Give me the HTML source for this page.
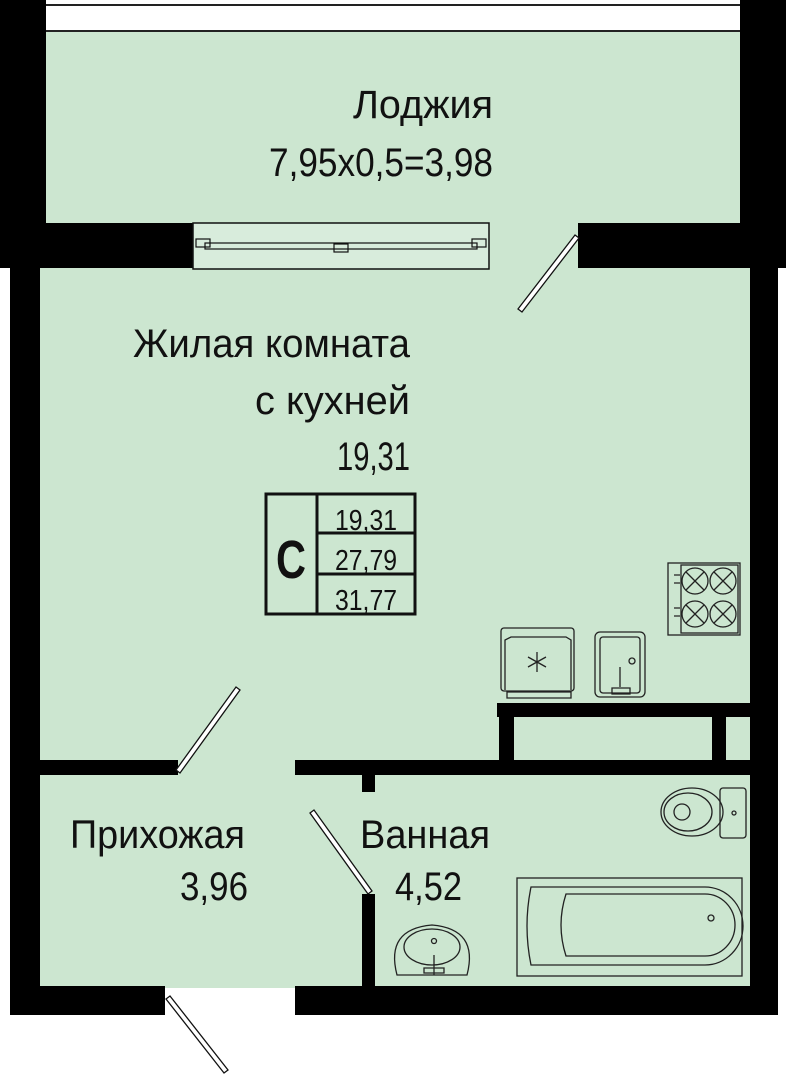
<!DOCTYPE html>
<html><head><meta charset="utf-8"><style>
html,body{margin:0;padding:0;background:#fff}
svg{display:block}
text{font-family:"Liberation Sans","DejaVu Sans",sans-serif;fill:#111}
</style></head><body>
<svg width="786" height="1080" viewBox="0 0 786 1080" xmlns="http://www.w3.org/2000/svg">
<rect width="786" height="1080" fill="#fff"/>
<line x1="45" y1="5" x2="742" y2="5" stroke="#222" stroke-width="2"/>
<line x1="45" y1="31" x2="742" y2="31" stroke="#222" stroke-width="2"/>
<rect x="46" y="32" width="696" height="236" fill="#cce6d0"/>
<rect x="38" y="266" width="714" height="722" fill="#cce6d0"/>
<rect x="0" y="0" width="46" height="268" fill="#000"/>
<rect x="740" y="0" width="46" height="268" fill="#000"/>
<rect x="0" y="223" width="193" height="45" fill="#000"/>
<rect x="578" y="223" width="208" height="45" fill="#000"/>
<rect x="193" y="223" width="296" height="46" fill="#d8ecdc" stroke="#111" stroke-width="1.5"/>
<rect x="205" y="243" width="272" height="6" fill="none" stroke="#111" stroke-width="1.2"/>
<rect x="196" y="239" width="14" height="8" fill="none" stroke="#111" stroke-width="1.2"/>
<rect x="472" y="239" width="14" height="8" fill="none" stroke="#111" stroke-width="1.2"/>
<rect x="334" y="244" width="14" height="8" fill="none" stroke="#111" stroke-width="1.2"/>
<rect x="10" y="266" width="30" height="749" fill="#000"/>
<rect x="750" y="266" width="28" height="749" fill="#000"/>
<rect x="10" y="986" width="155" height="29" fill="#000"/>
<rect x="295" y="986" width="483" height="29" fill="#000"/>
<rect x="38" y="760" width="140" height="15" fill="#000"/>
<rect x="295" y="760" width="460" height="15" fill="#000"/>
<rect x="362" y="775" width="13" height="17" fill="#000"/>
<rect x="362" y="894" width="13" height="95" fill="#000"/>
<rect x="497" y="703" width="258" height="14" fill="#000"/>
<rect x="499" y="703" width="15" height="60" fill="#000"/>
<rect x="712" y="703" width="14" height="60" fill="#000"/>
<g fill="#fff" stroke="#111" stroke-width="1.3">
<polygon points="518,309 522,312 579,238 575,235"/>
<polygon points="176,770 180,773 240,690 236,687"/>
<polygon points="310,813 314,810 372,891 368,894"/>
<polygon points="166,999 170,996 228,1070 224,1073"/>
</g>
<g fill="none" stroke="#222" stroke-width="1.3">
<rect x="668" y="563" width="72" height="72"/>
<rect x="681" y="565" width="57" height="68"/>
<circle cx="695" cy="581" r="13"/><circle cx="723" cy="581" r="13"/>
<circle cx="695" cy="614" r="13"/><circle cx="723" cy="614" r="13"/>
<path d="M686 572l18 18M704 572l-18 18M714 572l18 18M732 572l-18 18M686 605l18 18M704 605l-18 18M714 605l18 18M732 605l-18 18"/>
<path d="M674 575h6M674 583h6M674 608h6M674 616h6"/>
<rect x="501" y="628" width="73" height="63" rx="3"/>
<path d="M505 690v-50l6-3h55l5 3v50"/>
<path d="M507 692h64v6h-64z"/>
<path d="M537 652v20M528 657l18 10M546 657l-18 10"/>
<rect x="595" y="632" width="50" height="65" rx="5"/>
<rect x="600" y="637" width="40" height="56" rx="3"/>
<circle cx="632" cy="661" r="3"/>
<path d="M620 667v20M612 688h18v6h-18z"/>
<ellipse cx="692" cy="812" rx="31" ry="24"/>
<ellipse cx="688" cy="812" rx="24" ry="19"/>
<circle cx="682" cy="812" r="8"/>
<rect x="720" y="788" width="26" height="50" rx="3"/>
<circle cx="734" cy="813" r="2"/>
<rect x="517" y="878" width="225" height="98"/>
<path d="M531 887H705A38 39 0 0 1 705 965H531Q523 926 531 887Z"/>
<path d="M566 894H705A30 31 0 0 1 705 956H566Q556 925 566 894Z"/>
<circle cx="711" cy="918" r="3"/>
<path d="M397 975q-12-46 35-50q47 4 35 50z"/>
<ellipse cx="432" cy="947" rx="28" ry="18"/>
<circle cx="434" cy="941" r="2.5"/>
<path d="M434 955v20M424 968h20v5h-20z"/>
</g>
<text x="493" y="118" font-size="40" text-anchor="end" textLength="140" lengthAdjust="spacingAndGlyphs">Лоджия</text>
<text x="493" y="176" font-size="40" text-anchor="end" textLength="224" lengthAdjust="spacingAndGlyphs">7,95x0,5=3,98</text>
<text x="410" y="357" font-size="40" text-anchor="end" textLength="277" lengthAdjust="spacingAndGlyphs">Жилая комната</text>
<text x="410" y="414" font-size="40" text-anchor="end" textLength="155" lengthAdjust="spacingAndGlyphs">с кухней</text>
<text x="410" y="470" font-size="40" text-anchor="end" textLength="73" lengthAdjust="spacingAndGlyphs">19,31</text>
<text x="245" y="848" font-size="40" text-anchor="end" textLength="175" lengthAdjust="spacingAndGlyphs">Прихожая</text>
<text x="248" y="900" font-size="40" text-anchor="end" textLength="68" lengthAdjust="spacingAndGlyphs">3,96</text>
<text x="490" y="848" font-size="40" text-anchor="end" textLength="130" lengthAdjust="spacingAndGlyphs">Ванная</text>
<text x="462" y="900" font-size="40" text-anchor="end" textLength="67" lengthAdjust="spacingAndGlyphs">4,52</text>
<rect x="266" y="494" width="149" height="120" fill="none" stroke="#111" stroke-width="3"/>
<line x1="317" y1="494" x2="317" y2="614" stroke="#111" stroke-width="3"/>
<line x1="317" y1="533" x2="415" y2="533" stroke="#111" stroke-width="3"/>
<line x1="317" y1="574" x2="415" y2="574" stroke="#111" stroke-width="3"/>
<text x="291" y="578" font-size="54" font-weight="bold" text-anchor="middle" textLength="30" lengthAdjust="spacingAndGlyphs">C</text>
<text x="366" y="530" font-size="29" text-anchor="middle" textLength="62" lengthAdjust="spacingAndGlyphs">19,31</text>
<text x="366" y="570" font-size="29" text-anchor="middle" textLength="62" lengthAdjust="spacingAndGlyphs">27,79</text>
<text x="366" y="610" font-size="29" text-anchor="middle" textLength="62" lengthAdjust="spacingAndGlyphs">31,77</text>
</svg>
</body></html>
